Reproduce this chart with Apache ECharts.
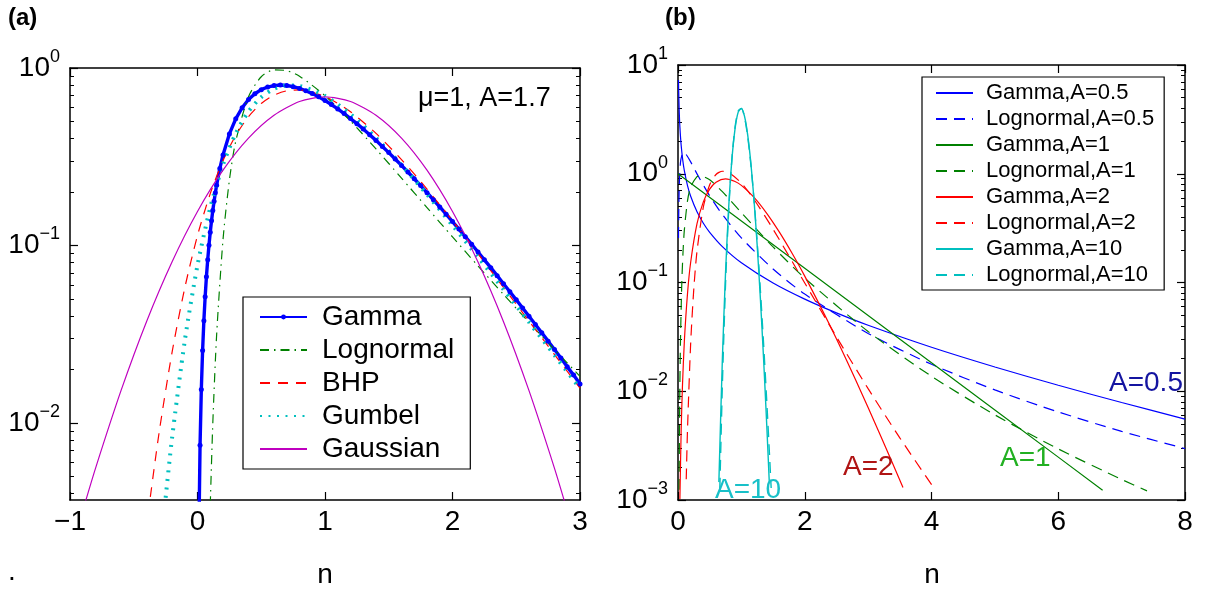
<!DOCTYPE html>
<html><head><meta charset="utf-8">
<script src="https://cdn.jsdelivr.net/npm/echarts@6/dist/echarts.min.js"></script>
<style>html,body{margin:0;padding:0;background:#fff}#c{width:1210px;height:590px}</style>
</head><body><div id="c"></div>
<script>
// ---------- Panel (a) ----------
const aXTicks = [-1, 0, 1, 2, 3];
const aYTicks = [0.01, 0.1, 1];
const aYMinor = [0.004,0.005,0.006,0.007,0.008,0.009,0.02,0.03,0.04,0.05,0.06,0.07,0.08,0.09,0.2,0.3,0.4,0.5,0.6,0.7,0.8,0.9];
const aNames = ['Gamma', 'Lognormal', 'BHP', 'Gumbel', 'Gaussian'];

const aGammaN = [0.01,0.02,0.03,0.04,0.05,0.06,0.07,0.08,0.09,0.10,0.11,0.12,0.13,0.14,0.15,0.175,0.2,0.25,0.3,0.35,0.4,0.45,0.5,0.55,0.6,0.65,0.7,0.75,0.8,0.85,0.9,0.95,1.0,1.05,1.1,1.15,1.2,1.25,1.3,1.35,1.4,1.45,1.5,1.55,1.6,1.65,1.7,1.75,1.8,1.85,1.9,1.95,2.0,2.05,2.1,2.15,2.2,2.25,2.3,2.35,2.4,2.45,2.5,2.55,2.6,2.65,2.7,2.75,2.8,2.85,2.9,2.95,3.0];
const aGammaP = [0.00212,0.00749,0.01544,0.0256,0.0377,0.0514,0.0667,0.0830,0.1004,0.1187,0.1377,0.1574,0.1775,0.1981,0.2187,0.2713,0.3237,0.425,0.517,0.597,0.664,0.716,0.755,0.781,0.796,0.802,0.797,0.785,0.767,0.7445,0.7175,0.6877,0.656,0.6225,0.588,0.5538,0.519,0.4858,0.453,0.421,0.391,0.3613,0.3336,0.3073,0.2825,0.2594,0.2377,0.2174,0.1985,0.1810,0.1650,0.1500,0.1363,0.1237,0.1121,0.1016,0.0919,0.0830,0.0750,0.0676,0.0609,0.0549,0.0494,0.0444,0.0399,0.0359,0.0322,0.0289,0.0259,0.0232,0.0207,0.0186,0.0166];

const aLognN = [0.1,0.12,0.15,0.2,0.25,0.3,0.4,0.5,0.6,0.7,0.8,1.0,1.2,1.4,1.6,1.8,2.0,2.2,2.4,2.6,2.8,3.0];
const aLognP = [0.00344,0.00996,0.0313,0.1078,0.233,0.387,0.689,0.8926,0.9758,0.9658,0.899,0.6985,0.503,0.3498,0.2397,0.1635,0.1117,0.0767,0.0530,0.0369,0.0259,0.0183];

const aBhpN = [-0.37,-0.3,-0.2,-0.1,0,0.1,0.2,0.3,0.4,0.5,0.6,0.7,0.8,1.0,1.2,1.4,1.6,1.8,2.0,2.2,2.4,2.6,2.8,3.0];
const aBhpP = [0.00383,0.00894,0.0249,0.0576,0.1139,0.196,0.3005,0.4168,0.5316,0.631,0.703,0.744,0.7527,0.690,0.5665,0.428,0.3048,0.208,0.138,0.090,0.058,0.0375,0.0243,0.0157];

const aGumN = [-0.25,-0.2,-0.1,0,0.1,0.2,0.3,0.4,0.5,0.6,0.7,0.8,1.0,1.2,1.4,1.6,1.8,2.0,2.2,2.4,2.6,2.8,3.0];
const aGumP = [0.00379,0.00817,0.029,0.0773,0.1633,0.285,0.428,0.5687,0.685,0.763,0.7975,0.792,0.696,0.549,0.404,0.284,0.194,0.130,0.0861,0.0566,0.0370,0.0241,0.01565];

const aGaussN = [-0.9,-0.8,-0.6,-0.4,-0.2,0,0.2,0.4,0.6,0.8,1.0,1.2,1.4,1.6,1.8,2.0,2.2,2.4,2.6,2.8,2.9];
const aGaussP = [0.0032,0.00555,0.0152,0.0372,0.0807,0.1553,0.2655,0.4027,0.542,0.648,0.688,0.648,0.542,0.4027,0.2655,0.1553,0.0807,0.0372,0.0152,0.00555,0.0032];

// ---------- Panel (b) ----------
const bXTicks = [0, 2, 4, 6, 8];
const bYTicks = [0.001, 0.01, 0.1, 1, 10];
const bYMinor = [0.002,0.003,0.004,0.005,0.006,0.007,0.008,0.009,0.02,0.03,0.04,0.05,0.06,0.07,0.08,0.09,0.2,0.3,0.4,0.5,0.6,0.7,0.8,0.9,2,3,4,5,6,7,8,9];
const bNames = ['Gamma,A=0.5','Lognormal,A=0.5','Gamma,A=1','Lognormal,A=1','Gamma,A=2','Lognormal,A=2','Gamma,A=10','Lognormal,A=10'];

const bG05N = [0.008,0.01,0.02,0.03,0.05,0.075,0.1,0.15,0.2,0.3,0.4,0.5,0.7,1,1.5,2,2.5,3,4,5,6,7,8];
const bG05P = [7.275,6.152,3.649,2.685,1.822,1.335,1.0696,0.7794,0.6204,0.4464,0.3508,0.2895,0.2139,0.1519,0.0989,0.07033,0.05251,0.04042,0.02537,0.01671,0.01135,0.007874,0.00555];
const bL05N = [0.008,0.01,0.02,0.04,0.07,0.09,0.12,0.2,0.3,0.5,0.7,1,1.5,2,3,4,5,6,7,8];
const bL05P = [0.257,0.354,0.783,1.285,1.543,1.572,1.530,1.286,0.9976,0.6265,0.4221,0.2571,0.1330,0.07832,0.03401,0.01770,0.01029,0.00645,0.00428,0.00297];
const bG1N = [0,1,2,3,4,5,6,6.7];
const bG1P = [1,0.3679,0.1353,0.04979,0.01832,0.006738,0.002479,0.001231];
const bL1N = [0.017,0.02,0.03,0.04,0.06,0.08,0.1,0.15,0.2,0.3,0.35,0.5,0.7,1,1.5,2,3,4,5,6,7,7.4];
const bL1P = [0.00124,0.0025,0.01185,0.0311,0.0992,0.1948,0.3033,0.5635,0.7585,0.940,0.9583,0.8788,0.6845,0.4394,0.2124,0.1098,0.03541,0.01373,0.006066,0.002949,0.001546,0.001214];
const bG2N = [0.03,0.05,0.07,0.1,0.15,0.2,0.3,0.4,0.5,0.6,0.75,0.9,1.0,1.2,1.4,1.6,1.8,2.0,2.4,2.8,3.2,3.55];
const bG2P = [0.00102,0.004367,0.01106,0.0286,0.07903,0.1534,0.347,0.5514,0.7219,0.8362,0.8963,0.8499,0.7815,0.6068,0.433,0.2905,0.1858,0.1145,0.03995,0.01281,0.00386,0.0013];
const bL2N = [0.13,0.15,0.2,0.25,0.3,0.4,0.5,0.6,0.7,0.8,1.0,1.2,1.5,2,2.5,3,3.5,4.05];
const bL2P = [0.00155,0.00445,0.0277,0.0886,0.1942,0.4947,0.7917,0.9848,1.0546,1.0266,0.8213,0.580,0.3093,0.09894,0.03165,0.01057,0.003726,0.001257];
const bG10N = [0.645,0.7,0.75,0.8,0.85,0.9,0.95,1.0,1.05,1.1,1.15,1.2,1.25,1.3,1.35,1.4,1.44];
const bG10P = [0.00146,0.0196,0.1228,0.4926,1.340,2.591,3.688,3.987,3.364,2.268,1.245,0.567,0.2172,0.0711,0.0201,0.00495,0.00148];
const bL10N = [0.66,0.7,0.75,0.8,0.85,0.9,0.95,1.0,1.05,1.1,1.15,1.2,1.25,1.3,1.35,1.4,1.45,1.47];
const bL10P = [0.00127,0.01142,0.0962,0.4574,1.352,2.679,3.780,3.995,3.294,2.193,1.214,0.5717,0.2342,0.08477,0.02758,0.00816,0.002215,0.001288];

// ---------- helpers ----------
const FONT = '"Liberation Sans", Arial, Helvetica, sans-serif';
const zip = (xs, ys) => xs.map((x, i) => [x, ys[i]]);
const minus = s => String(s).replace('-', '\u2212');
const powLabel = v => {
  const e = Math.round(Math.log10(v));
  return '{b|10}{s|' + minus(e) + '}';
};
const richPow = {
  b: { fontSize: 28, fontFamily: FONT, color: '#000', lineHeight: 40 },
  s: { fontSize: 18, fontFamily: FONT, color: '#000', lineHeight: 12, verticalAlign: 'top' }
};

function yAxes(grid, min, max, majors, minors) {
  const base = { type: 'log', logBase: 10, gridIndex: grid, min: min, max: max, splitLine: { show: false }, axisPointer: { show: false } };
  return [
    Object.assign({}, base, { position: 'left',
      axisLine: { show: true, onZero: false, lineStyle: { color: '#000', width: 1.5 } },
      axisTick: { show: true, inside: true, length: 8, customValues: majors, lineStyle: { color: '#000', width: 1.2 } },
      axisLabel: { show: true, customValues: majors, margin: 10, formatter: powLabel, rich: richPow } }),
    Object.assign({}, base, { position: 'left',
      axisLine: { show: false, onZero: false },
      axisTick: { show: true, inside: true, length: 4, customValues: minors, lineStyle: { color: '#000', width: 1 } },
      axisLabel: { show: false } }),
    Object.assign({}, base, { position: 'right',
      axisLine: { show: true, onZero: false, lineStyle: { color: '#000', width: 1.5 } },
      axisTick: { show: true, inside: true, length: 8, customValues: majors, lineStyle: { color: '#000', width: 1.2 } },
      axisLabel: { show: false } }),
    Object.assign({}, base, { position: 'right',
      axisLine: { show: false, onZero: false },
      axisTick: { show: true, inside: true, length: 4, customValues: minors, lineStyle: { color: '#000', width: 1 } },
      axisLabel: { show: false } })
  ];
}
function xAxes(grid, ticks) {
  const base = { type: 'value', gridIndex: grid, min: ticks[0], max: ticks[ticks.length - 1], interval: ticks[1] - ticks[0], splitLine: { show: false } };
  return [
    Object.assign({}, base, { position: 'bottom',
      axisLine: { show: true, onZero: false, lineStyle: { color: '#000', width: 1.5 } },
      axisTick: { show: true, inside: true, length: 8, customValues: ticks, lineStyle: { color: '#000', width: 1.2 } },
      axisLabel: { show: true, customValues: ticks, margin: 8, fontSize: 28, fontFamily: FONT, color: '#000', formatter: v => minus(v) } }),
    Object.assign({}, base, { position: 'top',
      axisLine: { show: true, onZero: false, lineStyle: { color: '#000', width: 1.5 } },
      axisTick: { show: true, inside: true, length: 8, customValues: ticks, lineStyle: { color: '#000', width: 1.2 } },
      axisLabel: { show: false } })
  ];
}

function line(name, xi, yi, xs, ys, color, width, type, extra) {
  return Object.assign({
    name: name, type: 'line', xAxisIndex: xi, yAxisIndex: yi, data: zip(xs, ys),
    symbol: 'none', smooth: 0.25, clip: true, silent: true,
    lineStyle: { color: color, width: width, type: type, cap: 'butt' },
    itemStyle: { color: color }
  }, extra || {});
}

const BLUE = '#0000ff', GREEN = '#008000', RED = '#ff0000', CYAN = '#00bfbf', MAG = '#bf00bf';
const DASH = [11, 7];

const series = [
  line('Gamma', 0, 0, aGammaN, aGammaP, BLUE, 3.4, 'solid', { symbol: 'circle', symbolSize: 5, showSymbol: true, smooth: false }),
  line('Lognormal', 0, 0, aLognN, aLognP, GREEN, 1.2, [9, 5, 1.5, 5]),
  line('BHP', 0, 0, aBhpN, aBhpP, RED, 1.2, [10, 8]),
  line('Gumbel', 0, 0, aGumN, aGumP, CYAN, 4, [2, 6.5]),
  line('Gaussian', 0, 0, aGaussN, aGaussP, MAG, 1.2, 'solid'),

  line('Gamma,A=0.5', 2, 4, bG05N, bG05P, BLUE, 1.2, 'solid'),
  line('Lognormal,A=0.5', 2, 4, bL05N, bL05P, BLUE, 1.2, DASH),
  line('Gamma,A=1', 2, 4, bG1N, bG1P, GREEN, 1.2, 'solid', { smooth: false }),
  line('Lognormal,A=1', 2, 4, bL1N, bL1P, GREEN, 1.2, DASH),
  line('Gamma,A=2', 2, 4, bG2N, bG2P, RED, 1.2, 'solid'),
  line('Lognormal,A=2', 2, 4, bL2N, bL2P, RED, 1.2, DASH),
  line('Gamma,A=10', 2, 4, bG10N, bG10P, CYAN, 1.4, 'solid'),
  line('Lognormal,A=10', 2, 4, bL10N, bL10P, CYAN, 1.4, DASH)
];

const noDot = n => ({ name: n, itemStyle: { opacity: 0 } });

const txt = (text, x, y, size, color, align, weight) => ({
  type: 'text', x: x, y: y, silent: true, z: 100,
  style: { text: text, fill: color || '#000', font: (weight || 'normal') + ' ' + size + 'px ' + FONT,
           textAlign: align || 'left', textVerticalAlign: 'middle', align: align || 'left', verticalAlign: 'middle' }
});

const option = {
  animation: false,
  backgroundColor: '#fff',
  grid: [
    { left: 70, top: 68, width: 510, height: 432 },
    { left: 678, top: 65, width: 507, height: 435 }
  ],
  xAxis: [].concat(xAxes(0, aXTicks), xAxes(1, bXTicks)),
  yAxis: [].concat(yAxes(0, 0.00368, 1, aYTicks, aYMinor), yAxes(1, 0.001, 10, bYTicks, bYMinor)),
  legend: [
    { data: [aNames[0]].concat(aNames.slice(1).map(noDot)), orient: 'vertical', left: 243, top: 297, itemWidth: 47, itemHeight: 6, itemGap: 5,
      padding: [6, 16, 6, 16], backgroundColor: '#fff', borderColor: '#000', borderWidth: 1.2, borderRadius: 0,
      selectedMode: false,
      textStyle: { fontSize: 28, fontFamily: FONT, color: '#000', lineHeight: 27, padding: [0, 0, 0, 10] } },
    { data: bNames.map(noDot), orient: 'vertical', left: 922, top: 77, itemWidth: 37, itemHeight: 6, itemGap: 4,
      padding: [5, 10, 4, 13], backgroundColor: '#fff', borderColor: '#000', borderWidth: 1.2, borderRadius: 0,
      selectedMode: false,
      textStyle: { fontSize: 22, fontFamily: FONT, color: '#000', lineHeight: 22, padding: [0, 0, 0, 8] } }
  ],
  graphic: [
    txt('(a)', 8, 18, 24, '#000', 'left', 'bold'),
    txt('(b)', 665, 18, 24, '#000', 'left', 'bold'),
    txt('\u03bc=1, A=1.7', 418, 99, 27, '#000', 'left'),
    txt('A=0.5', 1109, 383, 28, '#1414a0', 'left'),
    txt('A=1', 1000, 458, 28, '#22b022', 'left'),
    txt('A=2', 843, 467, 28, '#b01414', 'left'),
    txt('A=10', 715, 490, 28, '#18c0c8', 'left'),
    txt('n', 325, 575, 28, '#000', 'center'),
    txt('n', 932, 575, 28, '#000', 'center'),
    txt('.', 8, 572, 28, '#000', 'left')
  ],
  series: series
};

const chart = echarts.init(document.getElementById('c'), null, { renderer: 'canvas' });
chart.setOption(option);
</script>
</body></html>
